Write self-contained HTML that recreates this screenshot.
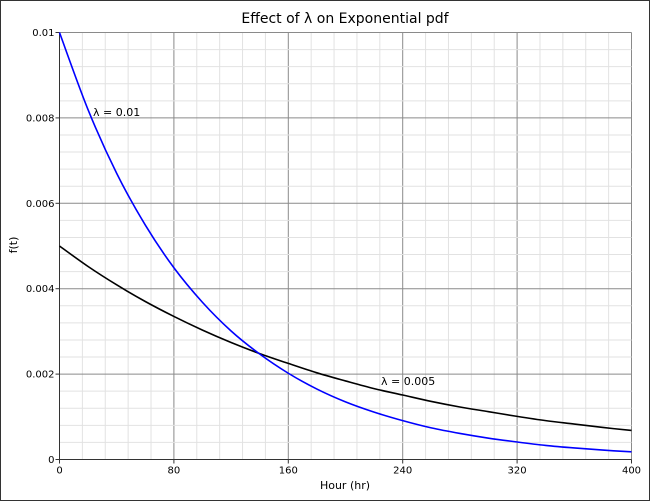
<!DOCTYPE html>
<html><head><meta charset="utf-8"><style>
html,body{margin:0;padding:0;background:#fff}
svg{display:block;font-family:"DejaVu Sans","Liberation Sans",sans-serif}
</style></head><body>
<svg id="chart" width="650" height="501" viewBox="0 0 650 501">
<rect x="0.5" y="0.5" width="649" height="500" fill="#fff" stroke="#333"/>
<text x="345" y="23" text-anchor="middle" font-size="14" fill="#000">Effect of λ on Exponential pdf</text>
<text x="345" y="489" text-anchor="middle" font-size="11" fill="#000">Hour (hr)</text>
<text transform="translate(17,245) rotate(-90)" text-anchor="middle" font-size="11" fill="#000">f(t)</text>
<g id="grid"></g><g id="axes"></g><g id="series"></g>
<text x="93" y="116" font-size="11" fill="#000">λ = 0.01</text>
<text x="381" y="385" font-size="11" fill="#000">λ = 0.005</text>
</svg>
<script>
const hours = [0,20,40,60,80,100,120,140,160,180,200,220,240,260,280,300,320,340,360,380,400];
const pdfLambda001 = [0.01,0.00819,0.0067,0.00549,0.00449,0.00368,0.00301,0.00247,0.00202,0.00165,0.00135,0.00111,0.00091,0.00074,0.00061,0.0005,0.00041,0.00033,0.00027,0.00022,0.00018];
const pdfLambda0005 = [0.005,0.00452,0.00409,0.0037,0.00335,0.00303,0.00274,0.00248,0.00225,0.00203,0.00184,0.00166,0.00151,0.00136,0.00123,0.00112,0.00101,0.00091,0.00083,0.00075,0.00068];
const xTicks = [0,80,160,240,320,400];
const yTicks = [0,0.002,0.004,0.006,0.008,0.01];
const yTickLabels = ["0","0.002","0.004","0.006","0.008","0.01"];

const X0=59.5,X1=631.5,Y0=459.5,Y1=32.5,XMAX=400,YMAX=0.01;
const sx=v=>X0+(X1-X0)*v/XMAX, sy=v=>Y0-(Y0-Y1)*v/YMAX;
const NS="http://www.w3.org/2000/svg";
function mk(tag,attrs,parent){const e=document.createElementNS(NS,tag);for(const k in attrs)e.setAttribute(k,attrs[k]);parent.appendChild(e);return e;}
const grid=document.getElementById('grid'),axes=document.getElementById('axes'),series=document.getElementById('series');
for(let v=0;v<=XMAX;v+=16){const major=v%80===0;
 const l=mk('line',{x1:sx(v),x2:sx(v),y1:Y1,y2:Y0,stroke:major?'#8a8a8a':'#e2e2e2','stroke-width':1},grid);
 
 }
for(let i=0;i<=25;i++){const v=i*0.0004;const major=i%5===0;
 const l=mk('line',{x1:X0,x2:X1,y1:sy(v),y2:sy(v),stroke:major?'#8a8a8a':'#e2e2e2','stroke-width':1},grid);
 
 }
const xa=mk('line',{x1:X0,x2:X1,y1:Y0,y2:Y0,stroke:'#333'},axes);


const ya=mk('line',{x1:X0,x2:X0,y1:Y1,y2:Y0,stroke:'#333'},axes);


xTicks.forEach(v=>{mk('line',{x1:sx(v),x2:sx(v),y1:Y0,y2:Y0+4,stroke:'#333'},axes);
 const t=mk('text',{x:sx(v),y:Y0+14,'text-anchor':'middle','font-size':10},axes);t.textContent=v;
 
 });
yTicks.forEach((v,i)=>{mk('line',{x1:X0-4,x2:X0,y1:sy(v),y2:sy(v),stroke:'#333'},axes);
 const t=mk('text',{x:X0-5,y:sy(v)+3.5,'text-anchor':'end','font-size':10},axes);t.textContent=yTickLabels[i];
 
 });
function smoothPath(xs,ys){const p=xs.map((x,i)=>[sx(x),sy(ys[i])]);let d=`M${p[0][0]},${p[0][1]}`;
 for(let i=0;i<p.length-1;i++){const a=p[i-1]||p[i],b=p[i],c=p[i+1],e=p[i+2]||c;
  d+=` C${b[0]+(c[0]-a[0])/6},${b[1]+(c[1]-a[1])/6} ${c[0]-(e[0]-b[0])/6},${c[1]-(e[1]-b[1])/6} ${c[0]},${c[1]}`;}
 return d;}
const s1=mk('path',{d:smoothPath(hours,pdfLambda0005),fill:'none',stroke:'#000','stroke-width':1.6},series);


const s2=mk('path',{d:smoothPath(hours,pdfLambda001),fill:'none',stroke:'#0000ff','stroke-width':1.6},series);


</script>
</body></html>
